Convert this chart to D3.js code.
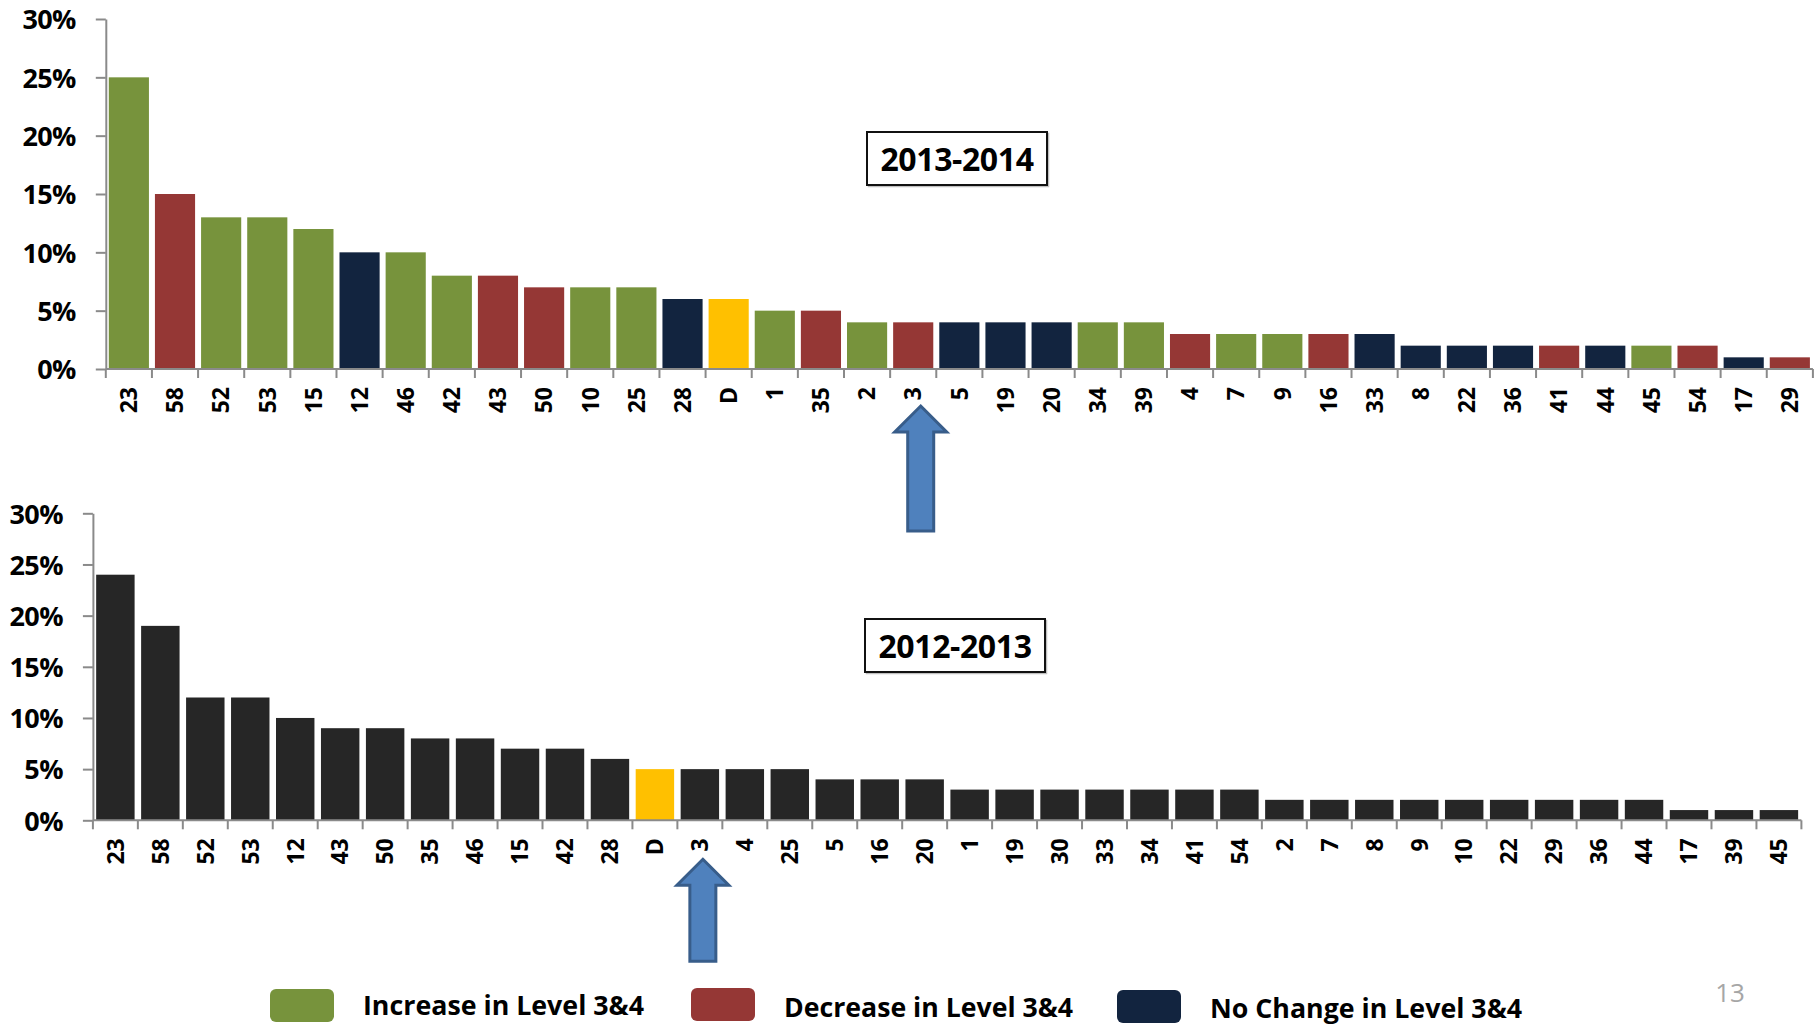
<!DOCTYPE html>
<html>
<head>
<meta charset="utf-8">
<script src="https://cdn.jsdelivr.net/npm/d3@7"></script>
<style>
  html, body { margin: 0; padding: 0; background: #ffffff; }
  svg { display: block; }
  text { font-family: "Open Sans", Lato, "Liberation Sans", sans-serif; }
</style>
</head>
<body>
<svg id="chart" width="1820" height="1025"></svg>
<script>
// ---- 2013-2014 school year ----
const catsA = ["23","58","52","53","15","12","46","42","43","50","10","25","28","D","1","35","2","3","5","19","20","34","39","4","7","9","16","33","8","22","36","41","44","45","54","17","29"];
const valsA = [25,15,13,13,12,10,10,8,8,7,7,7,6,6,5,5,4,4,4,4,4,4,4,3,3,3,3,3,2,2,2,2,2,2,2,1,1];
// change in Level 3&4 versus the prior year
const statusA = ["up","down","up","up","up","same","up","up","down","down","up","up","same","district","up","down","up","down","same","same","same","up","up","down","up","up","down","same","same","same","same","down","same","up","down","same","down"];

// ---- 2012-2013 school year ----
const catsB = ["23","58","52","53","12","43","50","35","46","15","42","28","D","3","4","25","5","16","20","1","19","30","33","34","41","54","2","7","8","9","10","22","29","36","44","17","39","45"];
const valsB = [24,19,12,12,10,9,9,8,8,7,7,6,5,5,5,5,4,4,4,3,3,3,3,3,3,3,2,2,2,2,2,2,2,2,2,1,1,1];

const yTicks = [0,5,10,15,20,25,30];
const legendKeys = ["up","down","same"];
const legendLabels = ["Increase in Level 3&4","Decrease in Level 3&4","No Change in Level 3&4"];

const colors = { up: "#77933C", down: "#953735", same: "#12243F", district: "#FFC000", plain: "#262626" };

const svg = d3.select("#chart");

function drawPanel(o) {
  const y = d3.scaleLinear().domain([0, 30]).range([o.y0, o.y1]);
  const x = d3.scaleBand().domain(o.cats).range([o.x0, o.x1]).paddingInner(o.pad).paddingOuter(o.pad / 2);
  const g = svg.append("g");

  // bars
  g.selectAll("rect.bar").data(o.cats).join("rect")
    .attr("class", "bar")
    .attr("x", d => x(d))
    .attr("width", x.bandwidth())
    .attr("y", (d, i) => y(o.vals[i]))
    .attr("height", (d, i) => y(0) - y(o.vals[i]))
    .attr("fill", (d, i) => o.fill(d, i));

  // y axis
  const ya = g.append("g").attr("transform", `translate(${o.x0},0)`)
    .call(d3.axisLeft(y).tickValues(yTicks).tickSize(10).tickSizeOuter(0).tickPadding(20).tickFormat(d => d + "%"));
  ya.selectAll("path, line").attr("stroke", "#8a8a8a").attr("stroke-width", 2);
  ya.selectAll("text").attr("font-size", 27).attr("font-weight", 700).attr("fill", "#000")
    .attr("dy", "0.36em").attr("letter-spacing", -0.6);

  // x axis with ticks on category boundaries
  const xa = g.append("g").attr("transform", `translate(0,${o.y0})`)
    .call(d3.axisBottom(x).tickSize(0).tickSizeOuter(0).tickPadding(0));
  xa.select(".domain").attr("stroke", "#8a8a8a").attr("stroke-width", 2)
    .attr("d", `M${o.x0},0H${o.x1}`);
  xa.selectAll(".tick text")
    .attr("font-size", 23).attr("font-weight", 700).attr("fill", "#000")
    .attr("text-anchor", "end")
    .attr("transform", `translate(0,${o.labelGap}) rotate(-90)`)
    .attr("x", 0).attr("y", 0).attr("dy", "0.36em");
  const half = (x.step() - x.bandwidth()) / 2;
  const bounds = o.cats.map(d => x(d) - half).concat([o.x1]);
  xa.selectAll("line.bound").data(bounds).join("line")
    .attr("class", "bound")
    .attr("x1", d => d).attr("x2", d => d)
    .attr("y1", 0).attr("y2", 9)
    .attr("stroke", "#8a8a8a").attr("stroke-width", 2);

  // year caption box
  const b = o.box;
  g.append("rect").attr("x", b.x + 1.5).attr("y", b.y + 1.5).attr("width", b.w).attr("height", b.h)
    .attr("fill", "none").attr("stroke", "#bfbfbf").attr("stroke-width", 1.5);
  g.append("rect").attr("x", b.x).attr("y", b.y).attr("width", b.w).attr("height", b.h)
    .attr("fill", "#fff").attr("stroke", "#111").attr("stroke-width", 2);
  g.append("text").attr("x", b.x + b.w / 2).attr("y", b.baseline)
    .attr("text-anchor", "middle").attr("font-size", 32).attr("font-weight", 700).attr("fill", "#000")
    .attr("letter-spacing", -0.4)
    .text(o.title);

  // arrow pointing at the district of interest
  const a = o.arrow;
  const cx = x(a.cat) + x.bandwidth() / 2 + a.dx;
  const tip = o.y0 + a.gap;
  const headW = 26, shaftW = 13, headH = 26;
  const pts = [
    [cx, tip], [cx + headW, tip + headH], [cx + shaftW, tip + headH], [cx + shaftW, tip + a.len],
    [cx - shaftW, tip + a.len], [cx - shaftW, tip + headH], [cx - headW, tip + headH]
  ];
  g.append("path").attr("d", d3.line()(pts) + "Z")
    .attr("fill", "#4F81BD").attr("stroke", "#385D8A").attr("stroke-width", 3).attr("stroke-linejoin", "miter");
}

drawPanel({
  cats: catsA, vals: valsA,
  fill: (d, i) => colors[statusA[i]],
  x0: 105.8, x1: 1812.9, y0: 369, y1: 19, pad: 0.13, labelGap: 18,
  title: "2013-2014",
  box: { x: 867, y: 132, w: 180, h: 53, baseline: 171 },
  arrow: { cat: "3", dx: 7.5, gap: 37, len: 125 }
});

drawPanel({
  cats: catsB, vals: valsB,
  fill: d => d === "D" ? colors.district : colors.plain,
  x0: 92.9, x1: 1801.4, y0: 820.3, y1: 513.3, pad: 0.145, labelGap: 18,
  title: "2012-2013",
  box: { x: 865, y: 619, w: 180, h: 53, baseline: 658 },
  arrow: { cat: "3", dx: 3, gap: 39, len: 102 }
});

// legend
const legendX = [270, 691, 1117];
const legendY = [989, 988, 990];
const legendText = [363, 784, 1210];
const legendBase = [1015, 1017, 1018];
const legendWidth = [281, 289, 312];
const lg = svg.append("g");
legendKeys.forEach((k, i) => {
  lg.append("rect").attr("x", legendX[i]).attr("y", legendY[i]).attr("width", 64).attr("height", 33)
    .attr("rx", 6).attr("fill", colors[k]);
  lg.append("text").attr("x", legendText[i]).attr("y", legendBase[i])
    .attr("font-size", 26).attr("font-weight", 700).attr("fill", "#000")
    .attr("textLength", legendWidth[i]).attr("lengthAdjust", "spacingAndGlyphs")
    .text(legendLabels[i]);
});

// slide number
svg.append("text").attr("x", 1730).attr("y", 1002).attr("text-anchor", "middle")
  .attr("font-size", 26).attr("fill", "#a6a6a6").text("13");
</script>
</body>
</html>
